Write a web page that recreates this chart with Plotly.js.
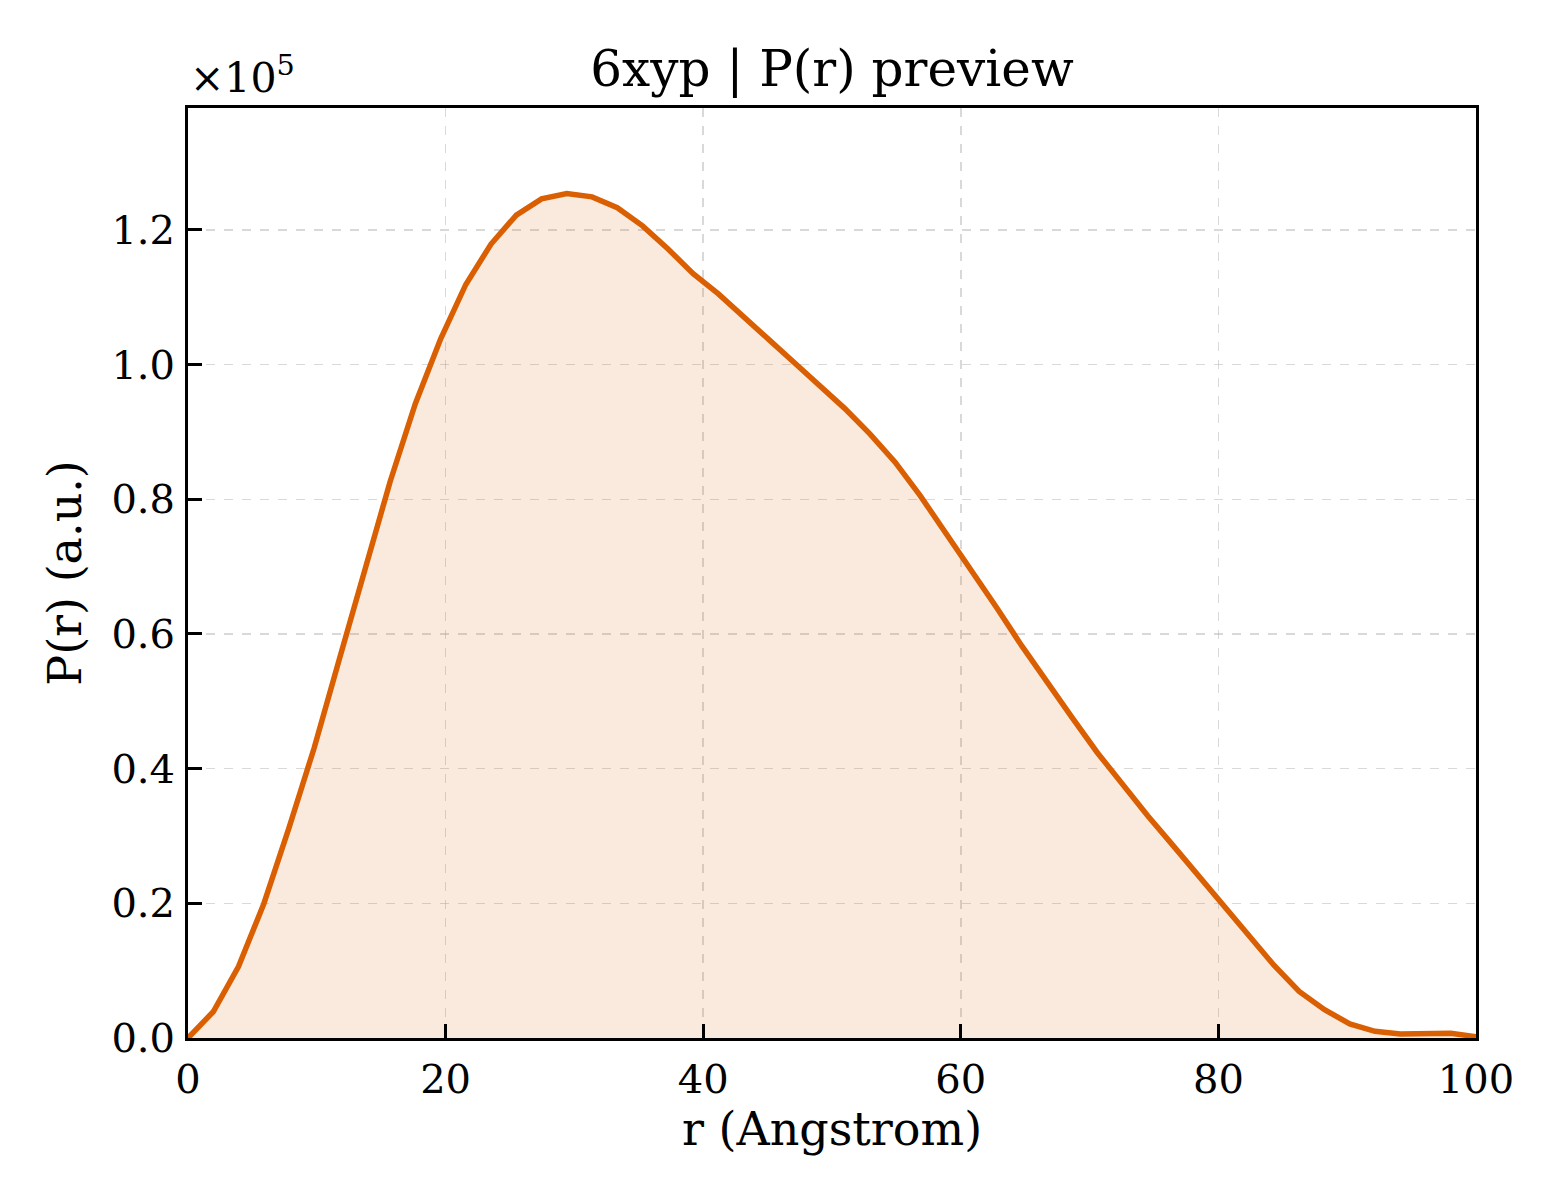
<html>
<head>
<script src="https://cdn.plot.ly/plotly-3.0.1.min.js"></script>
<style>
  body { margin: 0; background: #fff; }
</style>
</head>
<body>
<div id="chart" style="width:1560px;height:1200px;"></div>
<script>
// P(r) preview
let r_vals = [0, 1.96, 3.92, 5.88, 7.84, 9.80, 11.76, 13.73, 15.69, 17.65,
              19.61, 21.57, 23.53, 25.49, 27.45, 29.41, 31.37, 33.33, 35.29, 37.25,
              39.22, 41.18, 43.14, 45.10, 47.06, 49.02, 50.98, 52.94, 54.90, 56.86,
              58.82, 60.78, 62.75, 64.71, 66.67, 68.63, 70.59, 72.55, 74.51, 76.47,
              78.43, 80.39, 82.35, 84.31, 86.27, 88.24, 90.20, 92.16, 94.12, 96.08,
              98.04, 100];
let pr_vals = [0, 3900, 10600, 19900, 31200, 43100, 56300, 69200, 82600, 94200,
               103800, 111900, 117900, 122200, 124600, 125400, 124900, 123300, 120600, 117200,
               113500, 110500, 107000, 103700, 100300, 97000, 93500, 89700, 85500, 80500,
               75100, 69700, 64000, 58300, 52800, 47600, 42400, 37600, 33000, 28600,
               24200, 19800, 15300, 10800, 6900, 4200, 2100, 1000, 600, 600,
               700, 200];

let x_ticks = [0, 20, 40, 60, 80, 100];
let y_ticks = [0, 20000, 40000, 60000, 80000, 100000, 120000];
let y_ticktext = ['0.0', '0.2', '0.4', '0.6', '0.8', '1.0', '1.2'];

let font = 'DejaVu Serif, serif';

let trace = {
  x: r_vals,
  y: pr_vals,
  type: 'scatter',
  mode: 'lines',
  line: { color: '#d95f02', width: 5.5 },
  fill: 'tozeroy',
  fillcolor: 'rgba(217,95,2,0.13)',
  hoverinfo: 'skip'
};

let axisCommon = {
  showline: true,
  linecolor: '#000',
  linewidth: 3,
  mirror: true,
  ticks: 'inside',
  ticklen: 14,
  tickwidth: 3,
  tickcolor: '#000',
  showgrid: true,
  gridcolor: 'rgba(160,160,160,0.4)',
  gridwidth: 1.5,
  griddash: 'dash',
  zeroline: false,
  tickfont: { family: font, size: 40, color: '#000' }
};

let layout = {
  width: 1560,
  height: 1200,
  paper_bgcolor: '#fff',
  plot_bgcolor: '#fff',
  margin: { l: 188, r: 84, t: 108, b: 162 },
  showlegend: false,
  title: {
    text: '6xyp | P(r) preview',
    font: { family: font, size: 50, color: '#000' },
    x: 0.5, xref: 'paper', xanchor: 'center',
    y: 1 - 68 / 1200, yref: 'container', yanchor: 'middle'
  },
  xaxis: Object.assign({}, axisCommon, {
    range: [0, 100],
    tickvals: x_ticks,
    ticklabelstandoff: 4,
    title: { text: 'r (Angstrom)', font: { family: font, size: 46, color: '#000' }, standoff: 12 }
  }),
  yaxis: Object.assign({}, axisCommon, {
    range: [0, 138100],
    tickvals: y_ticks,
    ticktext: y_ticktext,
    ticklabelstandoff: 2,
    title: { text: 'P(r) (a.u.)', font: { family: font, size: 46, color: '#000' }, standoff: 16 }
  }),
  annotations: [{
    text: '×10<sup>5</sup>',
    xref: 'paper', yref: 'paper',
    x: 0, y: 1, xanchor: 'left', yanchor: 'bottom',
    xshift: 0, yshift: 4,
    showarrow: false,
    font: { family: font, size: 41, color: '#000' }
  }]
};

Plotly.newPlot('chart', [trace], layout, { displayModeBar: false, staticPlot: true });
</script>
</body>
</html>
